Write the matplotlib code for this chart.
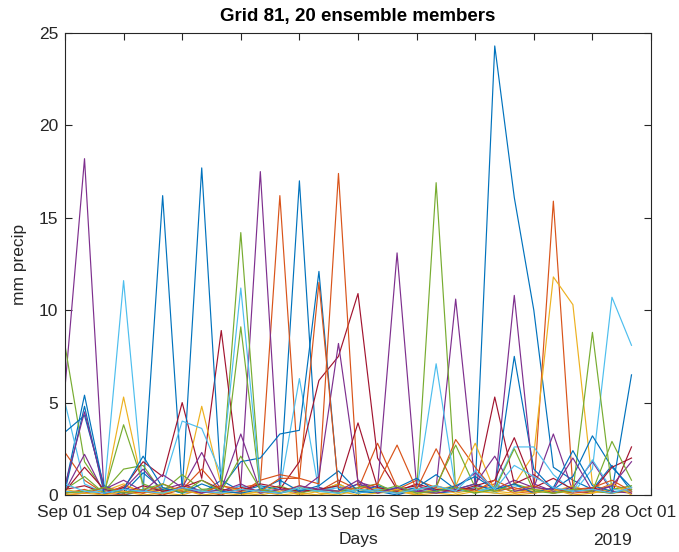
import numpy as np
import matplotlib
matplotlib.use('Agg')
import matplotlib.pyplot as plt
import matplotlib.dates as mdates

plt.rcParams['font.family'] = ['Liberation Sans', 'DejaVu Sans']

# daily precipitation (mm) for each ensemble member, Sep 01 - Sep 30
days = np.arange(np.datetime64('2019-09-01'), np.datetime64('2019-10-01'))

m01 = [0.4, 5.4, 0.3, 0.0, 0.2, 16.2, 0.3, 0.1, 0.8, 0.2, 0.5, 0.3, 17.0, 0.4, 0.1,
       0.6, 0.2, 0.0, 0.3, 0.1, 0.2, 0.4, 24.3, 16.1, 10.0, 1.5, 0.8, 0.3, 1.6, 0.2]
m02 = [2.3, 0.8, 0.1, 0.0, 0.3, 0.1, 0.5, 0.2, 0.0, 0.4, 0.6, 16.2, 0.5, 0.2, 0.8,
       0.3, 2.8, 0.4, 0.1, 0.5, 0.2, 0.3, 0.6, 0.1, 0.2, 15.9, 0.4, 0.2, 0.1, 0.3]
m03 = [0.1, 0.2, 0.0, 5.3, 0.4, 0.1, 0.0, 0.3, 0.2, 0.1, 0.0, 0.2, 0.5, 0.1, 0.0,
       0.3, 0.1, 0.2, 0.0, 0.4, 0.1, 0.3, 0.2, 0.6, 2.2, 11.8, 10.3, 0.6, 0.1, 0.2]
m04 = [5.8, 18.2, 0.2, 0.4, 0.1, 0.3, 0.6, 0.2, 0.1, 0.5, 17.5, 0.3, 0.1, 0.4, 0.2,
       0.6, 0.3, 0.1, 0.2, 0.4, 10.6, 0.5, 0.3, 0.8, 0.4, 3.3, 0.2, 0.1, 0.5, 0.3]
m05 = [8.1, 1.8, 0.2, 1.4, 1.6, 0.1, 0.3, 0.2, 0.5, 14.2, 0.4, 0.1, 0.3, 0.2, 0.6,
       0.1, 0.4, 0.3, 0.2, 16.9, 0.3, 0.1, 0.5, 0.2, 0.3, 0.1, 0.4, 0.2, 0.1, 0.3]
m06 = [5.0, 0.6, 0.1, 11.6, 0.2, 0.4, 0.1, 0.3, 0.2, 0.5, 0.1, 0.3, 6.3, 0.2, 0.4,
       0.1, 0.3, 0.2, 0.1, 0.4, 0.2, 0.3, 0.1, 0.5, 0.3, 0.2, 0.1, 1.4, 10.7, 8.1]
m07 = [0.3, 0.5, 0.1, 0.4, 1.8, 1.0, 5.0, 0.9, 8.9, 0.4, 0.2, 0.3, 1.8, 6.2, 7.5,
       10.9, 2.0, 0.3, 0.5, 0.2, 0.4, 0.3, 5.3, 0.6, 1.1, 0.3, 0.2, 0.4, 0.1, 2.6]
m08 = [3.4, 4.3, 0.5, 0.1, 1.2, 0.3, 0.2, 17.7, 0.4, 1.8, 2.0, 3.3, 3.5, 12.1, 0.3,
       0.1, 0.5, 0.2, 0.4, 1.1, 0.3, 0.6, 0.2, 7.5, 1.4, 0.3, 1.0, 3.2, 1.5, 0.4]
m09 = [0.1, 0.3, 0.0, 0.5, 0.2, 0.0, 0.3, 1.4, 0.2, 0.1, 0.8, 1.1, 0.9, 0.6, 17.4,
       0.5, 0.2, 0.3, 0.8, 0.4, 3.0, 1.5, 0.2, 0.4, 0.1, 0.3, 0.1, 0.2, 0.6, 0.1]
m10 = [0.3, 0.1, 0.2, 0.6, 0.1, 0.4, 0.2, 4.8, 0.5, 0.2, 0.1, 0.3, 0.0, 0.2, 0.6,
       0.1, 0.4, 0.2, 0.1, 0.3, 0.5, 2.8, 0.2, 0.1, 0.3, 0.2, 0.5, 0.1, 0.3, 0.4]
m11 = [0.2, 2.2, 0.1, 0.3, 1.4, 0.2, 0.4, 2.3, 0.2, 0.6, 0.1, 0.3, 0.2, 1.0, 8.2,
       0.7, 0.4, 13.1, 0.5, 0.2, 0.4, 1.2, 0.3, 10.8, 0.6, 0.2, 0.4, 1.8, 0.2, 0.1]
m12 = [0.3, 1.0, 0.1, 3.8, 0.6, 0.2, 1.1, 0.3, 0.4, 9.1, 0.2, 0.5, 0.1, 0.3, 0.2,
       0.4, 0.6, 0.1, 0.3, 0.5, 2.7, 0.4, 0.2, 0.6, 0.3, 0.1, 0.2, 8.8, 0.3, 0.5]
m13 = [0.2, 0.1, 0.3, 0.1, 0.2, 0.5, 4.0, 3.6, 1.1, 11.2, 0.4, 0.1, 0.3, 0.2, 0.5,
       0.1, 0.3, 0.4, 0.2, 7.1, 0.3, 0.2, 0.4, 2.6, 2.6, 1.1, 0.2, 1.9, 0.3, 0.2]
m14 = [0.2, 1.5, 0.3, 0.1, 0.5, 0.2, 0.4, 0.8, 0.3, 0.2, 0.6, 0.4, 0.2, 0.3, 0.5,
       3.9, 0.4, 0.2, 0.6, 0.3, 0.2, 0.5, 0.8, 3.1, 0.4, 0.9, 0.3, 0.2, 1.5, 2.0]
m15 = [0.2, 4.8, 0.1, 0.3, 2.1, 0.4, 0.1, 0.6, 0.2, 0.1, 0.3, 0.8, 0.2, 0.5, 1.3,
       0.2, 0.1, 0.4, 0.9, 0.2, 0.5, 1.0, 0.3, 0.6, 0.1, 0.4, 2.4, 0.5, 0.2, 6.5]
m16 = [0.0, 0.1, 0.4, 0.2, 0.1, 0.6, 0.2, 0.1, 0.5, 0.3, 0.2, 0.9, 0.9, 11.5, 0.4,
       0.3, 0.6, 2.7, 0.3, 2.5, 0.4, 0.2, 0.8, 0.3, 0.5, 0.1, 0.3, 0.4, 0.8, 0.2]
m17 = [0.0, 0.1, 0.0, 0.2, 0.0, 0.1, 0.3, 0.0, 0.1, 0.0, 0.2, 0.0, 0.1, 0.0, 0.2,
       0.0, 0.1, 0.3, 0.0, 0.1, 0.0, 0.2, 0.1, 0.0, 0.1, 0.3, 0.0, 0.1, 0.6, 0.0]
m18 = [0.5, 4.5, 0.3, 0.8, 0.2, 1.1, 0.4, 0.1, 0.3, 3.3, 0.2, 0.1, 0.5, 0.3, 0.2,
       0.8, 0.1, 0.4, 0.2, 0.1, 0.3, 0.6, 2.1, 0.2, 0.4, 0.3, 2.0, 0.2, 0.5, 1.8]
m19 = [0.1, 0.2, 0.4, 0.1, 0.3, 0.6, 0.1, 0.8, 0.2, 2.1, 0.3, 0.1, 0.4, 0.2, 0.1,
       0.3, 0.2, 0.5, 0.1, 0.2, 0.4, 0.1, 0.3, 2.5, 0.2, 0.1, 0.3, 0.2, 2.9, 0.8]
m20 = [0.6, 0.2, 0.1, 0.3, 0.2, 0.1, 0.4, 0.2, 0.1, 0.3, 0.2, 0.1, 0.4, 0.2, 0.1,
       0.3, 0.2, 0.1, 0.3, 0.5, 0.2, 1.3, 0.3, 1.6, 1.0, 0.4, 0.2, 0.3, 0.1, 0.4]

members = [m01, m02, m03, m04, m05, m06, m07, m08, m09, m10,
           m11, m12, m13, m14, m15, m16, m17, m18, m19, m20]

# matlab default line colour order
colors = ['#0072BD', '#D95319', '#EDB120', '#7E2F8E', '#77AC30', '#4DBEEE', '#A2142F']

fig = plt.figure(figsize=(6.79, 5.52), dpi=100)
ax = fig.add_axes([0.0957, 0.1033, 0.8631, 0.8369])

for i, m in enumerate(members):
    ax.plot(days, m, color=colors[i % 7], lw=0.85)

ax.set_xlim(np.datetime64('2019-09-01'), np.datetime64('2019-10-01'))
ax.set_ylim(0, 25)
ax.set_yticks([0, 5, 10, 15, 20, 25])
ax.xaxis.set_major_locator(mdates.DayLocator(bymonthday=[1, 4, 7, 10, 13, 16, 19, 22, 25, 28]))
ax.xaxis.set_major_formatter(mdates.DateFormatter('%b %d'))

edge = '#262626'
for s in ax.spines.values():
    s.set_color(edge)
    s.set_linewidth(0.8)
ax.tick_params(direction='in', length=5, width=0.8, color=edge, top=True, right=True,
               labelsize=12.5, labelcolor=edge)
ax.tick_params(axis='x', pad=7)
ax.tick_params(axis='y', pad=5)

ax.set_title('Grid 81, 20 ensemble members', fontsize=13.5, fontweight='bold', pad=9)
ax.set_xlabel('Days', fontsize=12.5, color=edge, labelpad=9)
ax.set_ylabel('mm precip', fontsize=12.5, color=edge, labelpad=8)
ax.text(0.935, -0.083, '2019', transform=ax.transAxes, ha='center', va='top',
        fontsize=12.5, color=edge)

fig.savefig('out.png', dpi=100)
